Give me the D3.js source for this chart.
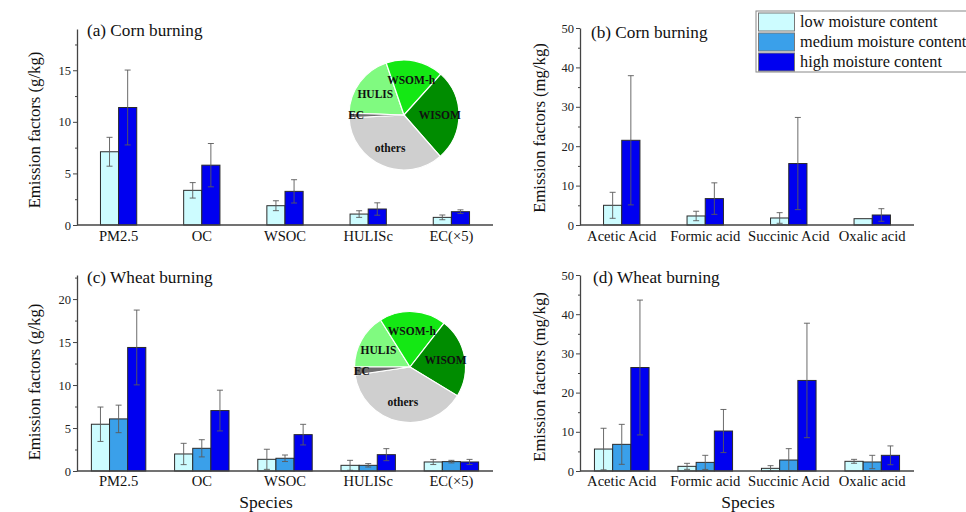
<!DOCTYPE html>
<html>
<head>
<meta charset="utf-8">
<script src="https://cdn.jsdelivr.net/npm/d3@7"></script>
<style>
  html, body { margin: 0; padding: 0; background: #fff; }
  svg { display: block; }
</style>
</head>
<body>
<svg id="chart" width="966" height="512"></svg>
<script>
// ---- categories ----
const species = ["PM2.5", "OC", "WSOC", "HULISc", "EC(×5)"];
const acids = ["Acetic Acid", "Formic acid", "Succinic Acid", "Oxalic acid"];
const moistureLevels = ["low moisture content", "medium moisture content", "high moisture content"];
const moistureColors = ["#cdfcff", "#3aa0ea", "#0000f0"];

// ---- (a) corn burning, species emission factors (g/kg) ----
const cornSpeciesLow = [7.1, 3.36, 1.87, 1.06, 0.74];
const cornSpeciesLowErr = [1.4, 0.75, 0.48, 0.32, 0.23];
const cornSpeciesHigh = [11.39, 5.8, 3.26, 1.55, 1.29];
const cornSpeciesHighErr = [3.63, 2.1, 1.13, 0.6, 0.18];

// ---- (b) corn burning, organic acids (mg/kg) ----
const cornAcidLow = [5.0, 2.29, 1.78, 1.6];
const cornAcidLowErr = [3.3, 1.2, 1.35, 0];
const cornAcidHigh = [21.5, 6.7, 15.6, 2.54];
const cornAcidHighErr = [16.4, 4.0, 11.7, 1.6];

// ---- (c) wheat burning, species emission factors (g/kg) ----
const wheatSpeciesLow = [5.44, 1.98, 1.36, 0.66, 1.05];
const wheatSpeciesLowErr = [2.0, 1.24, 1.17, 0.58, 0.3];
const wheatSpeciesMed = [6.06, 2.64, 1.48, 0.66, 1.09];
const wheatSpeciesMedErr = [1.6, 1.0, 0.38, 0.2, 0.15];
const wheatSpeciesHigh = [14.37, 7.03, 4.23, 1.9, 1.05];
const wheatSpeciesHighErr = [4.35, 2.37, 1.2, 0.7, 0.3];

// ---- (d) wheat burning, organic acids (mg/kg) ----
const wheatAcidLow = [5.6, 1.19, 0.68, 2.47];
const wheatAcidLowErr = [5.3, 0.77, 0.68, 0.5];
const wheatAcidMed = [6.8, 2.2, 2.8, 2.3];
const wheatAcidMedErr = [5.1, 1.8, 2.9, 1.7];
const wheatAcidHigh = [26.4, 10.2, 23.1, 4.0];
const wheatAcidHighErr = [17.2, 5.5, 14.6, 2.4];

// ---- OC composition pies (%) ----
const pieParts = ["HULIS", "WSOM-h", "WISOM", "others", "EC"];
const pieColors = ["#80fa80", "#14e814", "#008c00", "#cfcfcf", "#6e6e6e"];
const cornPie = [19.2, 16.9, 26.9, 35.6, 1.4];
const wheatPie = [16.1, 19.4, 23.2, 39.0, 2.3];

// ---- axis ticks ----
const speciesCornTicks = [0, 5, 10, 15];
const speciesCornMinor = [2.5, 7.5, 12.5, 17.5];
const speciesWheatTicks = [0, 5, 10, 15, 20];
const speciesWheatMinor = [2.5, 7.5, 12.5, 17.5, 22.5];
const acidTicks = [0, 10, 20, 30, 40, 50];
const acidMinor = [5, 15, 25, 35, 45];

const FONT = '"Liberation Serif", "Times New Roman", "DejaVu Serif", serif';
const svg = d3.select("#chart").attr("font-family", FONT);

function drawPanel(cfg) {
  const g = svg.append("g");
  const x = d3.scaleBand().domain(cfg.categories).range([cfg.x0, cfg.x1]).padding(0);
  const y = d3.scaleLinear().domain([0, cfg.yMax]).range([cfg.yBase, cfg.yTop]);
  const bw = x.bandwidth() * 0.218;
  const present = cfg.series.filter(s => s.values);

  const offsets = present.map((s, i) => (i - present.length / 2) * bw);

  // bars
  present.forEach((s, i) => {
    g.selectAll(null)
      .data(cfg.categories)
      .join("rect")
      .attr("x", c => x(c) + x.bandwidth() / 2 + offsets[i])
      .attr("y", (c, j) => y(s.values[j]))
      .attr("width", bw)
      .attr("height", (c, j) => y(0) - y(s.values[j]))
      .attr("fill", s.color)
      .attr("stroke", "#2b2b2b")
      .attr("stroke-width", 1);
  });

  // error bars (symmetric, drawn on top of the bars)
  present.forEach((s, i) => {
    const eg = g.selectAll(null)
      .data(cfg.categories.map((c, j) => ({ c, v: s.values[j], e: s.errors[j] })).filter(d => d.e > 0))
      .join("g")
      .attr("stroke", "#5a5a5a")
      .attr("stroke-width", 0.9);
    const cx = d => x(d.c) + x.bandwidth() / 2 + offsets[i] + bw / 2;
    eg.append("line")
      .attr("x1", cx).attr("x2", cx)
      .attr("y1", d => y(d.v + d.e)).attr("y2", d => y(Math.max(0, d.v - d.e)));
    [1, -1].forEach(sign => {
      eg.append("line")
        .attr("x1", d => cx(d) - 3).attr("x2", d => cx(d) + 3)
        .attr("y1", d => y(Math.max(0, d.v + sign * d.e)))
        .attr("y2", d => y(Math.max(0, d.v + sign * d.e)));
    });
  });

  // y axis with minor ticks
  const ya = g.append("g")
    .attr("transform", `translate(${cfg.x0},0)`)
    .call(d3.axisLeft(y).tickValues(cfg.ticks).tickSize(4).tickSizeOuter(0).tickPadding(2));
  ya.select(".domain").attr("stroke", "#444").attr("stroke-width", 1.3);
  ya.selectAll(".tick line").attr("stroke", "#444");
  ya.selectAll(".tick text").attr("font-family", FONT).attr("font-size", 12.5).attr("fill", "#222");

  const ym = g.append("g")
    .attr("transform", `translate(${cfg.x0},0)`)
    .call(d3.axisLeft(y).tickValues(cfg.minor).tickSize(2).tickFormat(""));
  ym.select(".domain").remove();
  ym.selectAll(".tick line").attr("stroke", "#444");

  // x axis baseline and category labels
  g.append("line")
    .attr("x1", cfg.x0).attr("x2", cfg.x1)
    .attr("y1", y(0)).attr("y2", y(0))
    .attr("stroke", "#444").attr("stroke-width", 1.3);
  g.selectAll(null)
    .data(cfg.categories)
    .join("text")
    .attr("x", c => x(c) + x.bandwidth() / 2)
    .attr("y", cfg.labelBaseline)
    .attr("text-anchor", "middle")
    .attr("font-size", 14.6)
    .attr("fill", "#111")
    .text(c => c);

  // y title
  g.append("text")
    .attr("transform", `translate(${cfg.yTitleX},${cfg.yTitleY}) rotate(-90)`)
    .attr("text-anchor", "middle")
    .attr("font-size", 16.7)
    .attr("fill", "#111")
    .text(cfg.yTitle);

  // panel title
  g.append("text")
    .attr("x", cfg.titleX).attr("y", cfg.titleY)
    .attr("font-size", 17.2)
    .attr("fill", "#111")
    .text(cfg.title);

  if (cfg.xTitle) {
    g.append("text")
      .attr("x", cfg.xTitleX).attr("y", 507.5)
      .attr("text-anchor", "middle")
      .attr("font-size", 17.5)
      .attr("fill", "#111")
      .text(cfg.xTitle);
  }
}

function drawPie(values, cx, cy, r, startDeg) {
  const g = svg.append("g").attr("transform", `translate(${cx},${cy})`);
  const start = startDeg * Math.PI / 180;
  const pie = d3.pie().sort(null).startAngle(start).endAngle(start + 2 * Math.PI);
  const arcs = pie(values);
  const arc = d3.arc().innerRadius(0).outerRadius(r);
  g.selectAll(null).data(arcs).join("path")
    .attr("d", arc)
    .attr("fill", (d, i) => pieColors[i])
    .attr("stroke", "#fff")
    .attr("stroke-width", 1.2);
  const labelArc = d3.arc().innerRadius(0).outerRadius(r * 1.3);
  const ecArc = d3.arc().innerRadius(0).outerRadius(r * 1.74);
  g.selectAll(null).data(arcs).join("text")
    .attr("transform", (d, i) => `translate(${(pieParts[i] === "EC" ? ecArc : labelArc).centroid(d)})`)
    .attr("text-anchor", "middle")
    .attr("dy", "0.35em")
    .attr("font-size", 11.5)
    .attr("font-weight", "bold")
    .attr("fill", "#111")
    .text((d, i) => pieParts[i]);
}

const speciesX = [77, 493];
const acidX = [580, 914];

drawPanel({
  categories: species, x0: speciesX[0], x1: speciesX[1],
  yMax: 19, yBase: 225, yTop: 29, ticks: speciesCornTicks, minor: speciesCornMinor,
  series: [
    { values: cornSpeciesLow, errors: cornSpeciesLowErr, color: moistureColors[0] },
    { values: null, errors: null, color: moistureColors[1] },
    { values: cornSpeciesHigh, errors: cornSpeciesHighErr, color: moistureColors[2] }
  ],
  labelBaseline: 241, yTitle: "Emission factors (g/kg)", yTitleX: 40, yTitleY: 130,
  title: "(a) Corn burning", titleX: 87, titleY: 36
});

drawPanel({
  categories: acids, x0: acidX[0], x1: acidX[1],
  yMax: 50, yBase: 225, yTop: 28, ticks: acidTicks, minor: acidMinor,
  series: [
    { values: cornAcidLow, errors: cornAcidLowErr, color: moistureColors[0] },
    { values: null, errors: null, color: moistureColors[1] },
    { values: cornAcidHigh, errors: cornAcidHighErr, color: moistureColors[2] }
  ],
  labelBaseline: 241, yTitle: "Emission factors (mg/kg)", yTitleX: 545, yTitleY: 128,
  title: "(b) Corn burning", titleX: 591, titleY: 37.5
});

drawPanel({
  categories: species, x0: speciesX[0], x1: speciesX[1],
  yMax: 22.8, yBase: 471, yTop: 275, ticks: speciesWheatTicks, minor: speciesWheatMinor,
  series: [
    { values: wheatSpeciesLow, errors: wheatSpeciesLowErr, color: moistureColors[0] },
    { values: wheatSpeciesMed, errors: wheatSpeciesMedErr, color: moistureColors[1] },
    { values: wheatSpeciesHigh, errors: wheatSpeciesHighErr, color: moistureColors[2] }
  ],
  labelBaseline: 486, yTitle: "Emission factors (g/kg)", yTitleX: 40, yTitleY: 382,
  title: "(c) Wheat burning", titleX: 87, titleY: 282.5,
  xTitle: "Species", xTitleX: 266
});

drawPanel({
  categories: acids, x0: acidX[0], x1: acidX[1],
  yMax: 50, yBase: 471, yTop: 275, ticks: acidTicks, minor: acidMinor,
  series: [
    { values: wheatAcidLow, errors: wheatAcidLowErr, color: moistureColors[0] },
    { values: wheatAcidMed, errors: wheatAcidMedErr, color: moistureColors[1] },
    { values: wheatAcidHigh, errors: wheatAcidHighErr, color: moistureColors[2] }
  ],
  labelBaseline: 486, yTitle: "Emission factors (mg/kg)", yTitleX: 545, yTitleY: 377,
  title: "(d) Wheat burning", titleX: 593, titleY: 282.5,
  xTitle: "Species", xTitleX: 748
});

// OC composition pies
drawPie(cornPie, 404, 115, 55, -88);
drawPie(wheatPie, 410, 367, 55.5, -90);

// legend
const legend = svg.append("g");
legend.append("rect")
  .attr("x", 756).attr("y", 11).attr("width", 220).attr("height", 61)
  .attr("fill", "#fff").attr("stroke", "#888").attr("stroke-width", 1);
const rows = legend.selectAll(null).data(moistureLevels).join("g")
  .attr("transform", (d, i) => `translate(0,${12.5 + i * 20})`);
rows.append("rect")
  .attr("x", 758.5).attr("y", 0.5).attr("width", 36).attr("height", 18)
  .attr("fill", (d, i) => moistureColors[i])
  .attr("stroke", "#777").attr("stroke-width", 1);
rows.append("text")
  .attr("x", 800).attr("y", 14)
  .attr("font-size", 16.3)
  .attr("fill", "#111")
  .text(d => d);
</script>
</body>
</html>
